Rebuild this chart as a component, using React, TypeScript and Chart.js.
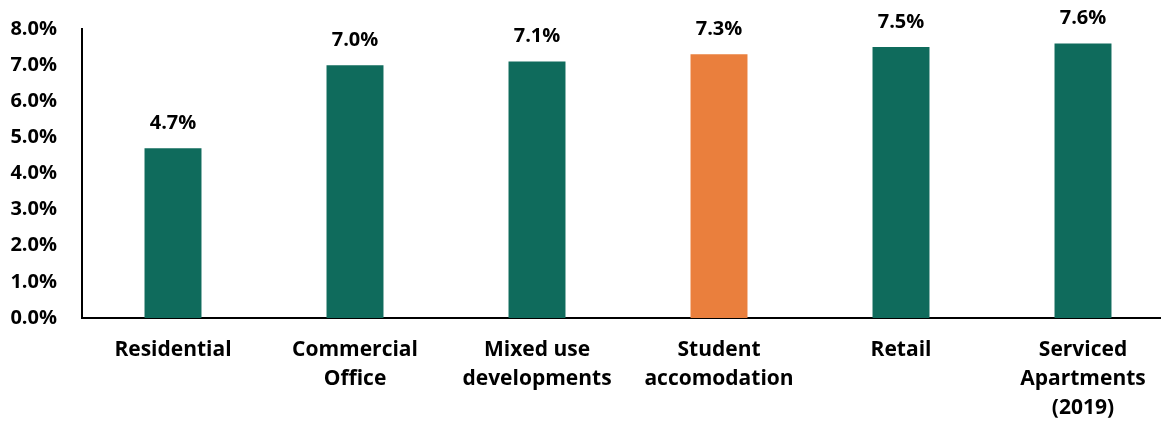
import React, { useEffect, useRef } from "react";
import { Chart, registerables } from "chart.js";

Chart.register(...registerables);

const categories: (string | string[])[] = [
  "Residential",
  ["Commercial", "Office"],
  ["Mixed use", "developments"],
  ["Student", "accomodation"],
  "Retail",
  ["Serviced", "Apartments", "(2019)"],
];
const yields: number[] = [4.7, 7.0, 7.1, 7.3, 7.5, 7.6];
const barColors: string[] = ["#0F6B5C", "#0F6B5C", "#0F6B5C", "#EA7F3D", "#0F6B5C", "#0F6B5C"];
const yTickMin = 0;
const yTickMax = 8;
const yTickStep = 1;

const FONT = "'Open Sans', sans-serif";

const valueLabels = {
  id: "valueLabels",
  afterDatasetsDraw(chart: any) {
    const ctx = chart.ctx;
    const meta = chart.getDatasetMeta(0);
    ctx.save();
    ctx.font = `bold 20px ${FONT}`;
    ctx.fillStyle = "#000";
    ctx.textAlign = "center";
    ctx.textBaseline = "middle";
    meta.data.forEach((el: any, i: number) => {
      ctx.fillText(yields[i].toFixed(1) + "%", el.x, el.y - 25);
    });
    ctx.restore();
  },
};

export default function App() {
  const ref = useRef<HTMLCanvasElement | null>(null);
  useEffect(() => {
    if (!ref.current) return;
    const chart = new Chart(ref.current, {
      type: "bar",
      data: {
        labels: categories,
        datasets: [
          {
            data: yields,
            backgroundColor: barColors,
            borderWidth: 0,
            categoryPercentage: 1,
            barPercentage: 0.313,
          },
        ],
      },
      options: {
        animation: false,
        responsive: false,
        maintainAspectRatio: false,
        layout: { padding: { left: 8, top: 29, right: 6, bottom: 0 } },
        plugins: { legend: { display: false }, tooltip: { enabled: false } },
        scales: {
          x: {
            grid: { display: false, drawTicks: false },
            border: { display: true, color: "#000", width: 2 },
            ticks: {
              color: "#000",
              font: { family: FONT, weight: "bold", size: 21, lineHeight: 1.38 },
              padding: 18,
              maxRotation: 0,
              autoSkip: false,
            },
            afterFit(scale: any) {
              scale.height = 105;
            },
          },
          y: {
            min: yTickMin,
            max: yTickMax,
            grid: { display: false, drawTicks: false },
            border: { display: true, color: "#000", width: 2 },
            ticks: {
              stepSize: yTickStep,
              color: "#000",
              font: { family: FONT, weight: "bold", size: 20 },
              padding: 25,
              callback: (v: any) => Number(v).toFixed(1) + "%",
            },
            afterFit(scale: any) {
              scale.width = 74;
              scale.paddingTop = 0;
              scale.paddingBottom = 0;
            },
          },
        },
      },
      plugins: [valueLabels],
    });
    return () => chart.destroy();
  }, []);
  return (
    <div
      style={{
        position: "absolute",
        left: 0,
        top: 0,
        width: 1161,
        height: 423,
        overflow: "hidden",
        background: "#fff",
      }}
    >
      <canvas ref={ref} width={1180} height={423} style={{ display: "block" }} />
    </div>
  );
}
